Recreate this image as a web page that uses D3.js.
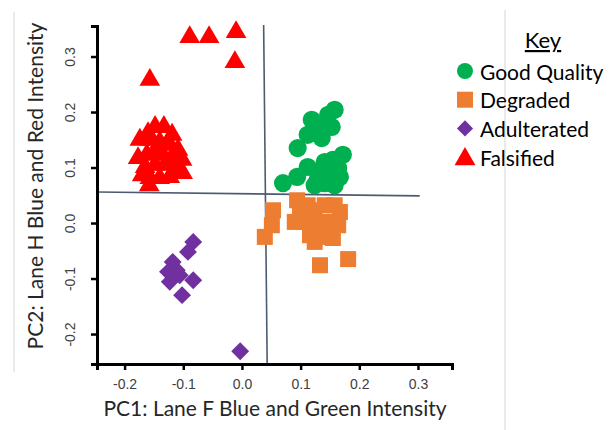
<!DOCTYPE html>
<html>
<head>
<meta charset="utf-8">
<script src="https://cdn.jsdelivr.net/npm/d3@7"></script>
<style>
  body { margin: 0; background: #fff; }
  #chart svg { display: block; font-family: Lato, "Open Sans", sans-serif; }
</style>
</head>
<body>
<div id="chart"></div>
<script>
// PCA scores, [PC1, PC2]
const goodQuality = [
  [0.158, 0.204], [0.147, 0.195], [0.119, 0.186], [0.153, 0.173], [0.133, 0.173],
  [0.112, 0.159], [0.136, 0.153], [0.095, 0.135], [0.172, 0.123], [0.155, 0.114],
  [0.141, 0.110], [0.112, 0.101], [0.164, 0.099], [0.147, 0.095], [0.129, 0.092],
  [0.094, 0.083], [0.070, 0.072], [0.129, 0.077], [0.153, 0.081], [0.167, 0.083],
  [0.141, 0.072], [0.124, 0.068], [0.158, 0.068]
];
const degraded = [
  [0.053, 0.023], [0.051, -0.004], [0.039, -0.025], [0.094, 0.041], [0.099, 0.020],
  [0.112, 0.032], [0.124, 0.023], [0.141, 0.032], [0.158, 0.032], [0.167, 0.020],
  [0.090, 0.002], [0.107, 0.002], [0.129, 0.002], [0.150, 0.002], [0.164, -0.004],
  [0.116, -0.022], [0.136, -0.025], [0.155, -0.027], [0.124, -0.034],
  [0.133, -0.076], [0.181, -0.065]
];
const adulterated = [
  [-0.083, -0.034], [-0.092, -0.052], [-0.118, -0.070], [-0.126, -0.088], [-0.106, -0.094],
  [-0.123, -0.106], [-0.111, -0.085], [-0.083, -0.103], [-0.102, -0.130], [-0.003, -0.231]
];
const falsified = [
  [-0.089, 0.335], [-0.056, 0.335], [-0.010, 0.344], [-0.012, 0.290], [-0.157, 0.258],
  [-0.160, 0.162], [-0.148, 0.173], [-0.133, 0.173], [-0.119, 0.159],
  [-0.174, 0.150], [-0.157, 0.150], [-0.140, 0.146], [-0.123, 0.141], [-0.109, 0.132],
  [-0.177, 0.117], [-0.162, 0.123], [-0.148, 0.128], [-0.135, 0.123], [-0.119, 0.119], [-0.102, 0.114],
  [-0.165, 0.101], [-0.148, 0.105], [-0.131, 0.105], [-0.114, 0.099], [-0.101, 0.090],
  [-0.170, 0.086], [-0.157, 0.081], [-0.140, 0.081], [-0.123, 0.083],
  [-0.158, 0.068]
];
const xTicks = [-0.2, -0.1, 0.0, 0.1, 0.2, 0.3];
const yTicks = [-0.2, -0.1, 0.0, 0.1, 0.2, 0.3];
// the two divider lines, [PC1, PC2] end points
const hLine = [[-0.247, 0.056], [0.303, 0.049]];
const vLine = [[0.037, 0.357], [0.043, -0.254]];

const groups = [
  { name: "Good Quality", data: goodQuality, color: "#00b050", shape: "circle" },
  { name: "Degraded", data: degraded, color: "#ed7d31", shape: "square" },
  { name: "Adulterated", data: adulterated, color: "#7030a0", shape: "diamond" },
  { name: "Falsified", data: falsified, color: "#ff0000", shape: "triangle" }
];

const width = 611, height = 430;
const svg = d3.select("#chart").append("svg")
  .attr("width", width).attr("height", height);

// faint frame lines from the source picture
svg.append("line").attr("x1", 14).attr("y1", 12).attr("x2", 14).attr("y2", 372)
  .attr("stroke", "#d4d4d4").attr("stroke-width", 1);
svg.append("line").attr("x1", 505).attr("y1", 10).attr("x2", 505).attr("y2", 430)
  .attr("stroke", "#d4d4d4").attr("stroke-width", 1);

const x = d3.scaleLinear().domain([-0.247, 0.358]).range([97, 452]);
const y = d3.scaleLinear().domain([-0.254, 0.355]).range([364, 26]);

const shapes = {
  circle: d3.symbol().type(d3.symbolCircle).size(260),
  square: d3.symbol().type(d3.symbolSquare).size(256),
  diamond: d3.symbol().type(d3.symbolSquare).size(160),
  triangle: d3.symbol().type(d3.symbolTriangle).size(185)
};
const rot = (g) => (g.shape === "diamond" ? " rotate(45)" : "");

// divider lines
const line = d3.line().x((d) => x(d[0])).y((d) => y(d[1]));
svg.append("path").datum(hLine).attr("d", line)
  .attr("stroke", "#4d5b70").attr("stroke-width", 1.6).attr("fill", "none");
svg.append("path").datum(vLine).attr("d", line)
  .attr("stroke", "#4d5b70").attr("stroke-width", 1.6).attr("fill", "none");

// axes
const xAxis = svg.append("g")
  .attr("transform", `translate(0,${y(-0.254)})`)
  .call(d3.axisBottom(x).tickValues(xTicks).tickFormat(d3.format(".1f")).tickSizeOuter(0).tickSize(6).tickPadding(9));
const yAxis = svg.append("g")
  .attr("transform", `translate(${x(-0.247)},0)`)
  .call(d3.axisLeft(y).tickValues(yTicks).tickFormat(d3.format(".1f")).tickSizeOuter(0).tickSize(6).tickPadding(7));

[xAxis, yAxis].forEach((a) => {
  a.select(".domain").attr("stroke", "#000").attr("stroke-width", 3);
  a.selectAll(".tick line").attr("stroke", "#000").attr("stroke-width", 2.5);
  a.selectAll("text").attr("fill", "#404040").style("font-size", "14px")
    .text((d) => d3.format(".1f")(d).replace("−", "-"));
});
yAxis.selectAll(".tick text")
  .attr("text-anchor", "middle")
  .attr("x", null).attr("dy", null)
  .attr("transform", "translate(-26,0) rotate(-90)")
  .attr("dominant-baseline", "middle");

// points
groups.forEach((g) => {
  svg.append("g").selectAll("path")
    .data(g.data)
    .enter()
    .append("path")
    .attr("d", shapes[g.shape])
    .attr("transform", (d) => `translate(${x(d[0])},${y(d[1])})${rot(g)}`)
    .attr("fill", g.color);
});

// axis titles
svg.append("text")
  .attr("x", 275).attr("y", 416)
  .attr("text-anchor", "middle")
  .attr("fill", "#262626")
  .style("font-size", "21px")
  .text("PC1: Lane F Blue and Green Intensity");
svg.append("text")
  .attr("transform", "translate(43,186) rotate(-90)")
  .attr("text-anchor", "middle")
  .attr("fill", "#262626")
  .style("font-size", "21px")
  .text("PC2: Lane H Blue and Red Intensity");

// legend
const legend = svg.append("g");
legend.append("text")
  .attr("x", 543).attr("y", 48)
  .attr("text-anchor", "middle")
  .attr("fill", "#000")
  .style("font-size", "22px")
  .style("text-decoration", "underline")
  .text("Key");

const legendSymbols = {
  circle: d3.symbol().type(d3.symbolCircle).size(200),
  square: d3.symbol().type(d3.symbolSquare).size(256),
  diamond: d3.symbol().type(d3.symbolSquare).size(130),
  triangle: d3.symbol().type(d3.symbolTriangle).size(190)
};
groups.forEach((g, i) => {
  const cy = 71 + i * 28.7;
  legend.append("path")
    .attr("d", legendSymbols[g.shape])
    .attr("transform", `translate(465,${cy + (g.shape === "triangle" ? 2 : 0)})${rot(g)}`)
    .attr("fill", g.color);
  legend.append("text")
    .attr("x", 480).attr("y", cy)
    .attr("dominant-baseline", "central")
    .attr("fill", "#000")
    .style("font-size", "21px")
    .text(g.name);
});
</script>
</body>
</html>
